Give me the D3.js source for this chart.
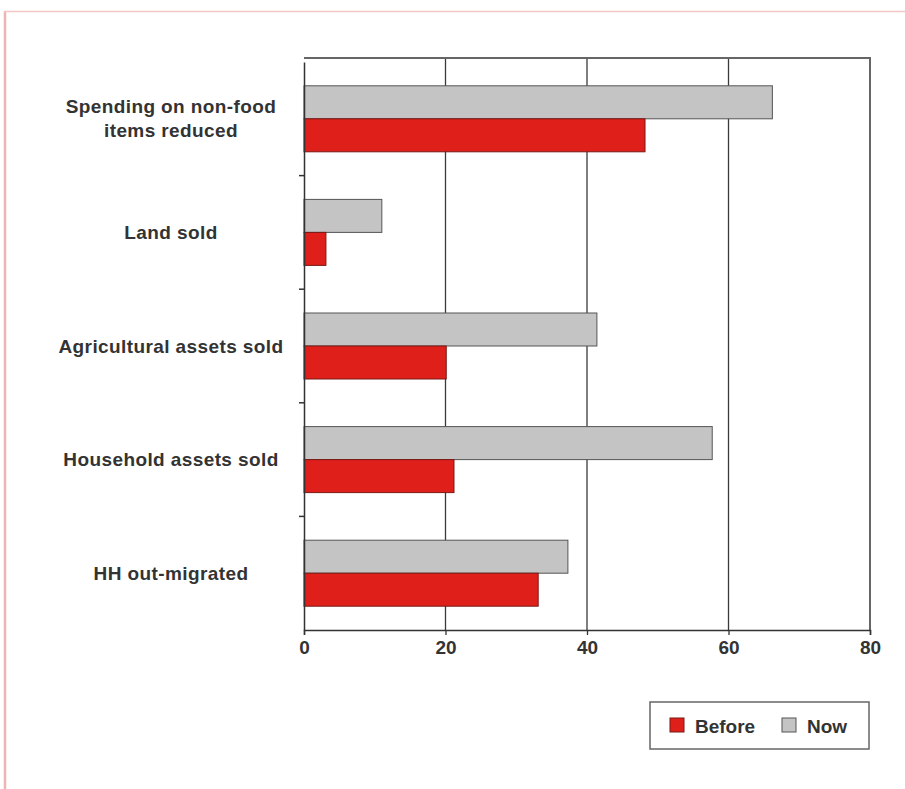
<!DOCTYPE html>
<html>
<head>
<meta charset="utf-8">
<script src="https://cdnjs.cloudflare.com/ajax/libs/d3/7.8.5/d3.min.js"></script>
<style>
  body { margin: 0; background: #fff; }
  svg text { font-family: "Liberation Sans", Arial, sans-serif; font-weight: bold; fill: #333; }
</style>
</head>
<body>
<svg id="canvas" width="905" height="789"></svg>
<script>
let categories = ["Spending on non-food|items reduced", "Land sold", "Agricultural assets sold", "Household assets sold", "HH out-migrated"];
let beforeValues = [48.2, 3.1, 20.1, 21.2, 33.1];
let nowValues = [66.2, 11, 41.4, 57.7, 37.3];
let xTicks = [0, 20, 40, 60, 80];
let seriesNames = ["Before", "Now"];

let canvas = d3.select('#canvas');

// page border
canvas.append('line').attr('x1', 5).attr('x2', 5).attr('y1', 11).attr('y2', 789)
    .attr('stroke', '#f0b3b3').attr('stroke-width', 2.5);
canvas.append('line').attr('x1', 4).attr('x2', 905).attr('y1', 11.5).attr('y2', 11.5)
    .attr('stroke', '#f3c6c6').attr('stroke-width', 1.5);

let xScale = d3.scaleLinear().domain([0, 80]).range([304, 870]);
let yScale = d3.scaleBand().domain(categories).range([62, 630]);
let barH = 33;

// grid
canvas.selectAll('.grid')
    .data(xTicks.slice(1, 4))
    .enter()
    .append('line')
    .attr('x1', d => xScale(d)).attr('x2', d => xScale(d))
    .attr('y1', 58).attr('y2', 630)
    .attr('stroke', '#3a3a3a').attr('stroke-width', 1.3);

// frame top + right
canvas.append('path')
    .attr('d', `M${xScale(0)},58 H${xScale(80)} V630`)
    .attr('fill', 'none').attr('stroke', '#666').attr('stroke-width', 2);

// bars
let rows = categories.map((c, i) => ({cat: c, before: beforeValues[i], now: nowValues[i]}));

canvas.selectAll('.now')
    .data(rows)
    .enter()
    .append('rect')
    .attr('x', xScale(0))
    .attr('y', d => yScale(d.cat) + yScale.bandwidth() / 2 - barH)
    .attr('width', d => xScale(d.now) - xScale(0))
    .attr('height', barH)
    .attr('fill', '#c4c4c4').attr('stroke', '#555').attr('stroke-width', 1);

canvas.selectAll('.before')
    .data(rows)
    .enter()
    .append('rect')
    .attr('x', xScale(0))
    .attr('y', d => yScale(d.cat) + yScale.bandwidth() / 2)
    .attr('width', d => xScale(d.before) - xScale(0))
    .attr('height', barH)
    .attr('fill', '#de1f1a').attr('stroke', '#7a1a16').attr('stroke-width', 1);

// x axis
let xAxis = canvas.append('g')
    .attr('transform', 'translate(0,630)')
    .call(d3.axisBottom(xScale).tickValues(xTicks).tickSize(5).tickPadding(6));
xAxis.select('.domain').attr('stroke', '#333').attr('stroke-width', 1.5);
xAxis.selectAll('.tick line').attr('stroke', '#333').attr('stroke-width', 1.3);
xAxis.selectAll('text').attr('font-size', 19).attr('font-family', null).attr('fill', '#333');

// y axis
let yAxis = canvas.append('g')
    .attr('transform', `translate(${xScale(0)},0)`)
    .call(d3.axisLeft(yScale).tickSize(0).tickFormat(''));
yAxis.select('.domain').attr('stroke', '#333').attr('stroke-width', 1.5);
canvas.selectAll('.ytick')
    .data(categories.slice(1))
    .enter()
    .append('line')
    .attr('x1', xScale(0) - 5).attr('x2', xScale(0))
    .attr('y1', d => yScale(d)).attr('y2', d => yScale(d))
    .attr('stroke', '#333').attr('stroke-width', 1.5);

// category labels
canvas.selectAll('.cat')
    .data(categories)
    .enter()
    .append('text')
    .attr('text-anchor', 'middle')
    .attr('font-size', 19)
    .attr('letter-spacing', 0.4)
    .each(function (d) {
        let lines = d.split('|');
        let cy = yScale(d) + yScale.bandwidth() / 2;
        lines.forEach((ln, k) => {
            d3.select(this).append('tspan')
                .attr('x', 171)
                .attr('y', cy + (k - (lines.length - 1) / 2) * 24)
                .attr('dy', '0.35em')
                .text(ln);
        });
    });

// legend
let legend = canvas.append('g');
legend.append('rect')
    .attr('x', 650).attr('y', 702).attr('width', 219).attr('height', 47)
    .attr('fill', '#fff').attr('stroke', '#666').attr('stroke-width', 1.5);
let legendX = [670, 782];
let legendFill = ['#de1f1a', '#c4c4c4'];
let legendStroke = ['#7a1a16', '#555'];
seriesNames.forEach((s, i) => {
    legend.append('rect')
        .attr('x', legendX[i]).attr('y', 718).attr('width', 14).attr('height', 14)
        .attr('fill', legendFill[i]).attr('stroke', legendStroke[i]).attr('stroke-width', 1);
    legend.append('text')
        .attr('x', legendX[i] + 25).attr('y', 726).attr('dy', '0.35em')
        .attr('font-size', 19)
        .text(s);
});
</script>
</body>
</html>
